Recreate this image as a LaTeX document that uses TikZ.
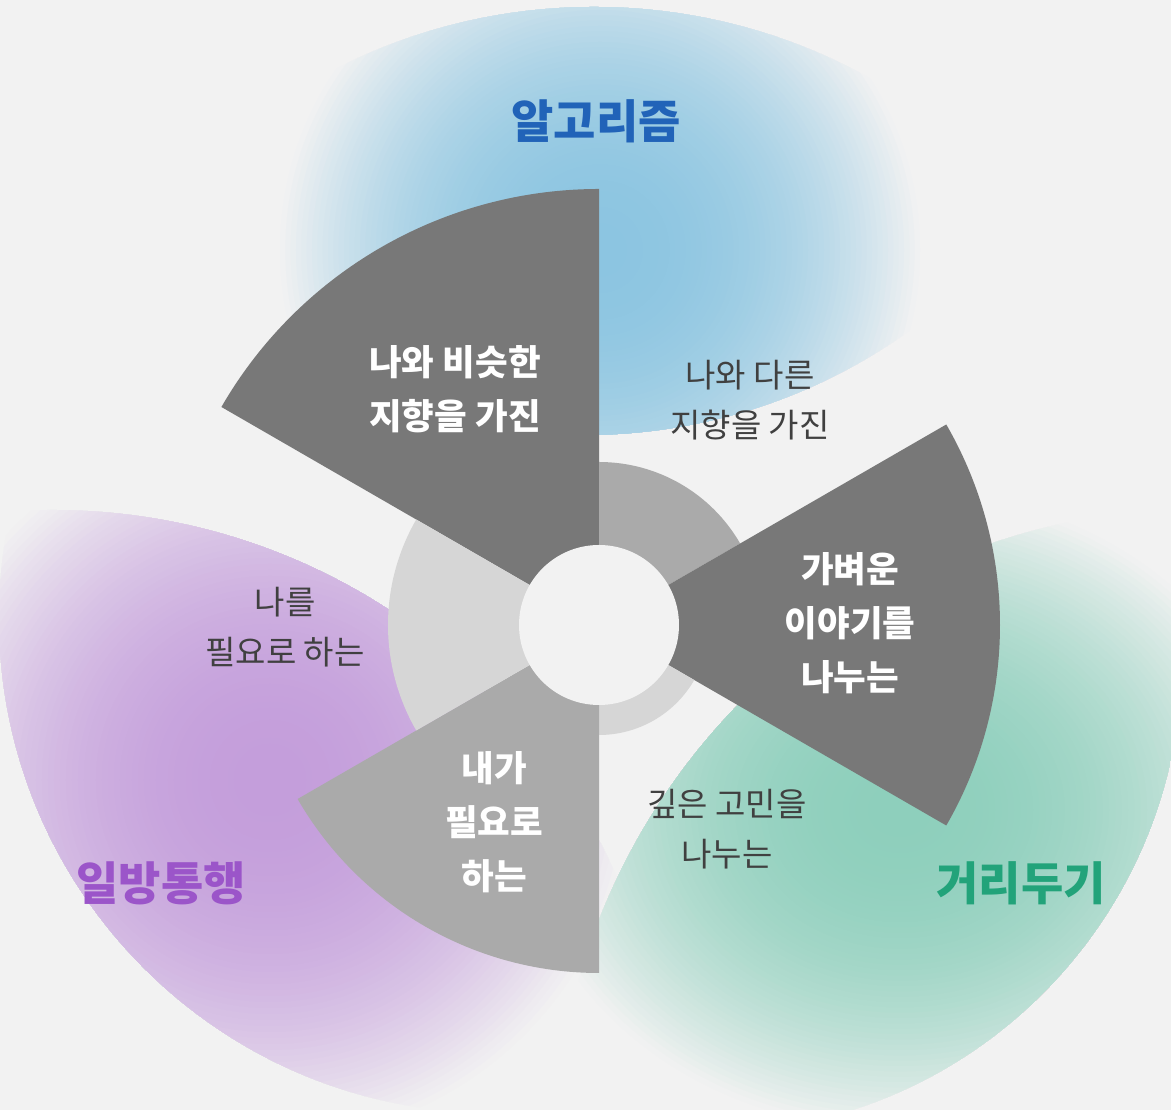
\documentclass[tikz,border=0pt]{standalone}
\usepackage{fontspec}
\newfontfamily\kr{Noto Sans CJK KR}
\definecolor{bgc}{HTML}{F2F2F2}
\definecolor{darkc}{HTML}{787878}
\definecolor{midc}{HTML}{AAAAAA}
\definecolor{lightc}{HTML}{D6D6D6}
\definecolor{blueb}{HTML}{8CC5E1}
\definecolor{purpb}{HTML}{C49EDB}
\definecolor{greenb}{HTML}{8ECFBC}
\definecolor{bluet}{HTML}{2163B8}
\definecolor{purpt}{HTML}{9B55C9}
\definecolor{greent}{HTML}{22A37A}
\definecolor{textc}{HTML}{404040}
\newcommand\myblob[5]{%
  \foreach \i in {0,...,59}{%
    \pgfmathsetmacro\blobt{1-\i/60}%
    \pgfmathsetmacro\blobp{100*(1-(\blobt-1/120)^2.2)}%
    \fill[#1!\blobp!bgc] (#2,#3) ellipse ({#4*\blobt} and {#5*\blobt});
  }}
\tikzset{
  inlabel/.style={font=\kr\bfseries\fontsize{35.5}{54}\selectfont, text=white, align=center, inner sep=0pt},
  outlabel/.style={font=\kr\fontsize{33}{50}\selectfont, text=textc, align=center, inner sep=0pt},
  title/.style={font=\kr\bfseries\fontsize{46}{50}\selectfont, inner sep=0pt},
}
\begin{document}
\begin{tikzpicture}[x=1pt,y=1pt]
\useasboundingbox (0,0) rectangle (1171,1110);
\fill[bgc] (0,0) rectangle (1171,1110);
% blobs
\begin{scope}
  \clip (594,533) circle (570);
  \clip (584,1235) circle (560);
  \myblob{blueb}{600}{860}{320}{320}
\end{scope}
\begin{scope}
  \clip (494,492) circle (495);
  \clip (52,-18) circle (618);
  \myblob{purpb}{270}{330}{360}{360}
\end{scope}
\begin{scope}
  \clip (706,453) circle (476);
  \clip (1204,-48) circle (650);
  \myblob{greenb}{900}{300}{380}{320}
\end{scope}
% sectors
\coordinate (C) at (599,485);
\fill[darkc]  (C) -- ++(90:436) arc[start angle=90, end angle=150, radius=436] -- cycle;
\fill[midc]   (C) -- ++(30:163) arc[start angle=30, end angle=90, radius=163] -- cycle;
\fill[darkc]  (C) -- ++(-30:401) arc[start angle=-30, end angle=30, radius=401] -- cycle;
\fill[lightc] (C) -- ++(-90:110) arc[start angle=-90, end angle=-30, radius=110] -- cycle;
\fill[midc]   (C) -- ++(210:348) arc[start angle=210, end angle=270, radius=348] -- cycle;
\fill[lightc] (C) -- ++(150:211) arc[start angle=150, end angle=210, radius=211] -- cycle;
\fill[bgc] (C) circle (80);
% labels
\node[title, text=bluet] (alg) at (596,989) {알고리즘};
\node[title, text=purpt] (one) at (161,227) {일방통행};
\node[title, text=greent] (dist) at (1021,227) {거리두기};
\node[inlabel] (sim) at (455,721) {나와 비슷한\\지향을 가진};
\node[outlabel] (diff) at (750,710) {나와 다른\\지향을 가진};
\node[inlabel] (light) at (850,487) {가벼운\\이야기를\\나누는};
\node[outlabel] (needme) at (285,483) {나를\\필요로 하는};
\node[inlabel] (ineed) at (494,288) {내가\\필요로\\하는};
\node[outlabel] (deep) at (727,281) {깊은 고민을\\나누는};
\end{tikzpicture}
\end{document}
